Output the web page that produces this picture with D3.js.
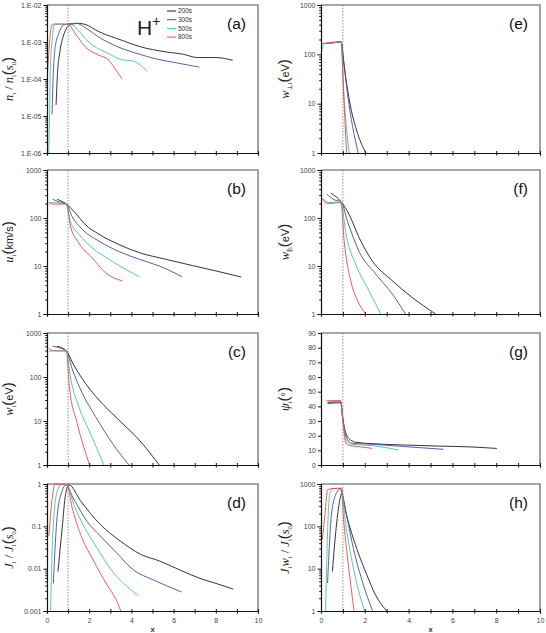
<!DOCTYPE html>
<html>
<head>
<meta charset="utf-8">
<script src="https://cdn.jsdelivr.net/npm/d3@7"></script>
<style>
body { margin: 0; background: #fff; }
svg { display: block; }
.tick text { font-family: Arial, "Liberation Sans", sans-serif; font-size: 7px; fill: #444; }
</style>
</head>
<body>
<svg id="chart" width="546" height="633"></svg>
<script>
// ---- data ----
var seriesNames = ["200s", "300s", "500s", "800s"];
var xTicks = [0, 2, 4, 6, 8, 10];

// (a) n_i / n_i(s0)
var a200 = [[0.43,2e-5],[0.5,1.5e-4],[0.6,5e-4],[0.75,1.3e-3],[0.9,2.2e-3],[1.1,2.9e-3],[1.5,3.2e-3],[1.8,3e-3],[2.46,1.9e-3],[3.57,1.1e-3],[4.37,7.6e-4],[5.63,5.4e-4],[6.43,4.7e-4],[7.14,3.8e-4],[8.0,3.8e-4],[8.8,3.2e-4]];
var a300 = [[0.24,1.1e-5],[0.3,1.5e-4],[0.4,8e-4],[0.56,1.7e-3],[0.75,2.8e-3],[1.0,3.1e-3],[1.4,3.2e-3],[1.83,2.4e-3],[2.46,1.35e-3],[3.41,7.2e-4],[4.37,4.7e-4],[5.16,3.5e-4],[6.11,2.75e-4],[7.22,2.1e-4]];
var a500 = [[0.08,1e-6],[0.12,1e-5],[0.16,2.1e-4],[0.25,1.2e-3],[0.35,2.9e-3],[0.6,3e-3],[1.0,3e-3],[1.2,2.9e-3],[1.5,2e-3],[1.98,1e-3],[2.94,4.8e-4],[3.57,3.3e-4],[4.05,3.1e-4],[4.76,1.6e-4]];
var a800 = [[0.03,1.6e-4],[0.15,1.5e-3],[0.24,3e-3],[0.5,3.1e-3],[1.0,3e-3],[1.35,1.65e-3],[1.83,7.2e-4],[2.46,4.4e-4],[2.94,3.2e-4],[3.17,2.1e-4],[3.57,1e-4]];

// (b) u_i (km/s)
var b200 = [[0.48,245],[0.92,195],[1.35,126],[1.83,72],[2.46,46],[3.41,28],[4.37,19],[5.63,13.8],[6.9,10.2],[8.0,7.9],[9.2,5.9]];
var b300 = [[0.27,245],[0.6,215],[0.92,195],[1.19,107],[1.67,58],[2.46,33],[3.41,20],[4.37,13.8],[5.32,10],[6.4,6]];
var b500 = [[0.08,190],[0.3,210],[0.92,195],[1.11,85],[1.51,46],[2.14,24],[2.94,13.8],[3.73,8.5],[4.37,6]];
var b800 = [[0.08,215],[0.3,195],[0.92,195],[1.11,68],[1.51,30],[2.14,14.8],[2.78,7.2],[3.57,4.9]];

// (c) w_i (eV)
var c200 = [[0.48,500],[0.92,390],[1.27,186],[1.83,71],[2.46,30],[3.41,10.5],[4.37,3.7],[5.32,1]];
var c300 = [[0.27,500],[0.92,390],[1.19,155],[1.67,43],[2.3,12.6],[3.1,3.1],[3.89,1]];
var c500 = [[0.08,370],[0.3,400],[0.92,390],[1.11,100],[1.51,21],[1.98,6.3],[2.7,1]];
var c800 = [[0.08,445],[0.3,390],[0.92,390],[1.06,60],[1.43,8.9],[2.02,1]];

// (d) J_i / J_i(s0)
var d200 = [[0.52,0.0085],[0.72,0.093],[0.88,0.57],[1.04,0.95],[1.59,0.4],[2.53,0.11],[3.47,0.045],[4.42,0.022],[5.36,0.015],[6.3,0.0093],[7.25,0.0059],[8.0,0.0045],[8.82,0.0033]];
var d300 = [[0.3,0.0045],[0.49,0.19],[0.72,0.69],[0.88,0.95],[1.27,0.44],[1.9,0.13],[2.53,0.059],[3.32,0.023],[4.1,0.0093],[5.05,0.0054],[6.38,0.0028]];
var d500 = [[0.17,0.001],[0.28,0.078],[0.49,0.69],[0.72,1.0],[0.95,0.95],[1.27,0.33],[1.75,0.1],[2.37,0.031],[3.0,0.01],[3.63,0.0045],[4.34,0.0023]];
var d800 = [[0.09,0.059],[0.25,0.48],[0.38,1.0],[0.95,0.95],[1.19,0.28],[1.59,0.065],[2.22,0.015],[2.85,0.0041],[3.24,0.002],[3.5,0.001]];

// (e) w_perp (eV)
var e200 = [[0.2,165],[0.5,170],[0.92,180],[1.06,56],[1.29,12],[1.67,2.5],[2.05,1]];
var e300 = [[0.15,165],[0.5,170],[0.92,180],[1.0,100],[1.21,16],[1.44,3.5],[1.7,1]];
var e500 = [[0.03,120],[0.15,165],[0.5,170],[0.92,180],[1.06,12],[1.29,1]];
var e800 = [[0.03,165],[0.5,175],[0.92,180],[1.01,26],[1.17,1]];

// (f) w_par (eV)
var f200 = [[0.45,330],[0.91,220],[1.29,117],[1.74,39],[2.35,12.6],[3.26,4.9],[4.17,2.2],[5.23,1]];
var f300 = [[0.26,316],[0.6,240],[0.91,220],[1.21,85],[1.74,20],[2.5,6.8],[3.26,2.6],[3.86,1]];
var f500 = [[0.08,250],[0.4,210],[0.91,215],[1.14,46],[1.59,10.7],[2.2,3],[2.73,1]];
var f800 = [[0.05,257],[0.3,200],[0.91,210],[1.06,33],[1.36,4.9],[1.67,1.9],[2.05,1]];

// (g) psi_i (deg)
var g200 = [[0.3,42],[0.9,42.5],[0.98,33],[1.14,21.5],[1.36,17],[1.59,15.5],[2.35,14.5],[3.86,13.6],[5.38,12.9],[6.9,12.3],[8.03,11.3]];
var g300 = [[0.3,42.5],[0.9,43],[1.0,32],[1.15,19],[1.44,14.7],[2.35,14.1],[3.86,12.5],[5.6,10.7]];
var g500 = [[0.3,43],[0.9,43.5],[1.0,30],[1.15,17],[1.36,14.3],[2.35,13.2],[3.56,10.2]];
var g800 = [[0.25,43.8],[0.9,44],[1.0,30],[1.13,15],[1.26,13.6],[1.74,12.5],[2.35,11.3]];

// (h) J_i w_i / J_i(s0)
var h200 = [[0.52,8.5],[0.72,126],[0.87,450],[0.94,590],[1.17,182],[1.63,30],[2.09,7.2],[2.47,2.5],[3.0,1]];
var h300 = [[0.3,4.6],[0.49,220],[0.72,630],[0.87,760],[1.1,263],[1.48,30],[1.93,4.2],[2.36,1]];
var h500 = [[0.21,1],[0.3,74],[0.41,630],[0.64,790],[0.94,790],[1.1,151],[1.48,10.2],[1.81,2],[2.0,1]];
var h800 = [[0.06,50],[0.18,182],[0.3,740],[0.7,790],[0.94,790],[1.02,182],[1.25,12.3],[1.51,1]];

var color = ["#1e1e1e", "#4a4aa6", "#3cc79b", "#ee4a44"];

var svg = d3.select("#chart");

var cols = [{x0: 47, x1: 258, tx: 13}, {x0: 321, x1: 540, tx: 289}];
var rows = [[5, 153], [170, 314], [333, 465], [484, 611]];

var panels = [
	{id: "a", c: 0, r: 0, log: true, dom: [1e-6, 1e-2], data: [a200, a300, a500, a800],
		fmt: function(d) { return "1.E-0" + (-Math.round(Math.log10(d))); },
		title: [["n", "it"], ["i", "sub"], [" / ", ""], ["n", "it"], ["i", "sub"], ["(", "par"], ["s", "it"], ["0", "sub"], [")", "par"]]},
	{id: "b", c: 0, r: 1, log: true, dom: [1, 1000], data: [b200, b300, b500, b800],
		title: [["u", "it"], ["i", "sub"], ["(", "par"], ["km/s", ""], [")", "par"]]},
	{id: "c", c: 0, r: 2, log: true, dom: [1, 1000], data: [c200, c300, c500, c800],
		title: [["w", "it"], ["i", "sub"], ["(", "par"], ["eV", ""], [")", "par"]]},
	{id: "d", c: 0, r: 3, log: true, dom: [0.001, 1], data: [d200, d300, d500, d800],
		fmt: function(d) { return String(+d.toPrecision(1)); },
		title: [["J", "it"], ["i", "sub"], [" / ", ""], ["J", "it"], ["i", "sub"], ["(", "par"], ["s", "it"], ["0", "sub"], [")", "par"]]},
	{id: "e", c: 1, r: 0, log: true, dom: [1, 1000], data: [e200, e300, e500, e800],
		title: [["w", "it"], ["\u22A5i", "sub"], ["(", "par"], ["eV", ""], [")", "par"]]},
	{id: "f", c: 1, r: 1, log: true, dom: [1, 1000], data: [f200, f300, f500, f800],
		title: [["w", "it"], ["\u2225i", "sub"], ["(", "par"], ["eV", ""], [")", "par"]]},
	{id: "g", c: 1, r: 2, log: false, dom: [0, 90], data: [g200, g300, g500, g800],
		title: [["\u03C8", "it"], ["i", "sub"], ["(", "par"], ["\u00B0", ""], [")", "par"]]},
	{id: "h", c: 1, r: 3, log: true, dom: [1, 1000], data: [h200, h300, h500, h800],
		title: [["J", "it"], ["i", "sub"], ["w", "it"], ["i", "sub"], [" / ", ""], ["J", "it"], ["i", "sub"], ["(", "par"], ["s", "it"], ["0", "sub"], [")", "par"]]}
];

panels.forEach(function(p) {
	var col = cols[p.c], row = rows[p.r];
	var x = d3.scaleLinear().domain([0, 10]).range([col.x0, col.x1]);
	var y = (p.log ? d3.scaleLog() : d3.scaleLinear()).domain(p.dom).range([row[1], row[0]]);
	var g = svg.append("g").attr("class", "panel panel-" + p.id);

	// frame: grey top/right
	g.append("path")
		.attr("d", "M" + col.x0 + "," + row[0] + "H" + col.x1 + "V" + row[1])
		.attr("fill", "none").attr("stroke", "#8a8a8a").attr("stroke-width", 1.6);

	// dotted line at x = 1
	g.append("line")
		.attr("x1", x(1)).attr("x2", x(1)).attr("y1", row[0]).attr("y2", row[1])
		.attr("stroke", "#777").attr("stroke-width", 0.8).attr("stroke-dasharray", "1.5,1.5");

	// curves
	var line = d3.line().x(function(d) { return x(d[0]); }).y(function(d) { return y(d[1]); })
		.curve(d3.curveMonotoneX);
	p.data.forEach(function(s, i) {
		g.append("path").datum(s)
			.attr("d", line)
			.attr("fill", "none")
			.attr("stroke", color[i])
			.attr("stroke-width", 0.9);
	});

	// x axis
	var xAxis = d3.axisBottom(x).tickValues(d3.range(0, 11)).tickSize(2.5).tickPadding(5)
		.tickFormat(function(d) { return p.r === 3 && xTicks.indexOf(d) >= 0 ? d : ""; });
	var gx = g.append("g").attr("transform", "translate(0," + row[1] + ")").call(xAxis);
	gx.select(".domain").attr("stroke", "#111").attr("stroke-width", 1.2);
	gx.selectAll(".tick line").attr("stroke", "#111").attr("y1", -2);

	// y axis
	var yAxis;
	if (p.log) {
		var major = [], minor = [];
		for (var e = Math.round(Math.log10(p.dom[0])); e <= Math.round(Math.log10(p.dom[1])); e++) {
			major.push(Math.pow(10, e));
			if (Math.pow(10, e) < p.dom[1]) for (var k = 2; k < 10; k++) minor.push(k * Math.pow(10, e));
		}
		yAxis = d3.axisLeft(y).tickValues(major).tickSize(3.5).tickPadding(2)
			.tickFormat(p.fmt || function(d) { return String(Math.round(d)); });
		g.append("g").attr("transform", "translate(" + col.x0 + ",0)")
			.call(d3.axisLeft(y).tickValues(minor).tickSize(1.8).tickFormat(""))
			.call(function(s) { s.select(".domain").remove(); s.selectAll("line").attr("stroke", "#111"); });
	} else {
		yAxis = d3.axisLeft(y).tickValues(d3.range(0, 91, 10)).tickSize(3).tickPadding(2);
	}
	var gy = g.append("g").attr("transform", "translate(" + col.x0 + ",0)").call(yAxis);
	gy.select(".domain").attr("stroke", "#111").attr("stroke-width", 1.2);
	gy.selectAll(".tick line").attr("stroke", "#111");

	// y title
	var yc = (row[0] + row[1]) / 2;
	var t = g.append("text")
		.attr("transform", "translate(" + col.tx + "," + yc + ") rotate(-90)")
		.attr("text-anchor", "middle")
		.attr("font-family", "'Liberation Serif', 'DejaVu Serif', serif")
		.attr("font-size", 12.5)
		.attr("fill", "#222");
	var shift = 0;
	p.title.forEach(function(part) {
		var ts = t.append("tspan").text(part[0]);
		if (part[1] === "it") ts.attr("font-style", "italic");
		if (part[1] === "sub") { ts.attr("font-size", 6.5).attr("dy", 3 - shift); shift = 3; }
		else { ts.attr("dy", -shift); shift = 0; }
		if (part[1] === "par") ts.attr("font-size", 15).attr("font-family", "'Liberation Sans', Arial, sans-serif").attr("font-weight", 300);
		if (part[1] === "" && part[0] !== " / ") ts.attr("font-family", "'Liberation Sans', Arial, sans-serif").attr("font-size", 11);
	});

	// panel letter
	g.append("text")
		.attr("x", col.x1 - 12).attr("y", row[0] + 24)
		.attr("text-anchor", "end")
		.attr("font-family", "Arial, 'Liberation Sans', sans-serif")
		.attr("font-size", 15.5)
		.attr("fill", "#111")
		.text("(" + p.id + ")");

	if (p.r === 3) {
		g.append("text")
			.attr("x", (col.x0 + col.x1) / 2).attr("y", 632)
			.attr("text-anchor", "middle")
			.attr("font-family", "Arial, 'Liberation Sans', sans-serif")
			.attr("font-size", 7.5).attr("font-weight", "bold").attr("fill", "#333")
			.text("x");
	}
});

// H+ label
var hl = svg.append("text")
	.attr("x", 137).attr("y", 35)
	.attr("font-family", "Arial, 'Liberation Sans', sans-serif")
	.attr("font-size", 21).attr("fill", "#222");
hl.append("tspan").text("H");
hl.append("tspan").attr("font-size", 14).attr("dy", -9).text("+");

// legend
var legend = svg.selectAll(".legend")
	.data(seriesNames)
	.enter().append("g")
	.attr("class", "legend")
	.attr("transform", function(d, i) { return "translate(167," + (11 + i * 8.7) + ")"; });

legend.append("line")
	.attr("x1", 0).attr("x2", 9)
	.attr("stroke", function(d, i) { return color[i]; })
	.attr("stroke-width", 1);

legend.append("text")
	.attr("x", 11).attr("y", 2.3)
	.attr("font-family", "Arial, 'Liberation Sans', sans-serif")
	.attr("font-size", 6.5).attr("fill", "#333")
	.text(function(d) { return d; });
</script>
</body>
</html>
